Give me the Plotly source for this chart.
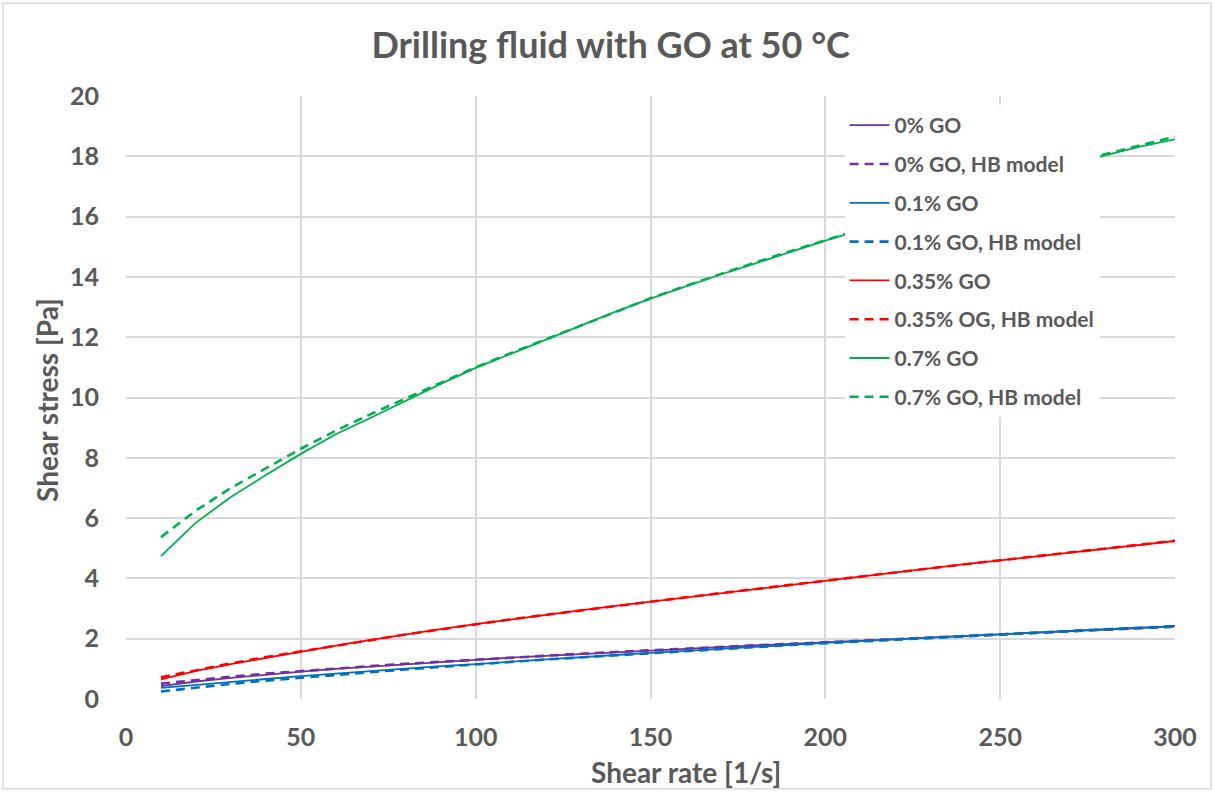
import plotly.graph_objects as go

shear_rate = [10, 20, 30, 40, 50, 60, 70, 80, 90, 100,
              110, 120, 130, 140, 150, 160, 170, 180, 190, 200,
              210, 220, 230, 240, 250, 260, 270, 280, 290, 300]

go0_meas = [0.43, 0.58, 0.70, 0.81, 0.91, 1.00, 1.08, 1.16, 1.23, 1.30,
            1.37, 1.43, 1.50, 1.56, 1.62, 1.67, 1.73, 1.78, 1.83, 1.88,
            1.93, 1.98, 2.03, 2.08, 2.13, 2.19, 2.24, 2.29, 2.35, 2.42]
go0_hb = [0.51, 0.63, 0.74, 0.84, 0.93, 1.01, 1.09, 1.17, 1.24, 1.31,
          1.37, 1.44, 1.50, 1.56, 1.62, 1.67, 1.73, 1.78, 1.83, 1.88,
          1.93, 1.98, 2.03, 2.08, 2.13, 2.18, 2.23, 2.28, 2.34, 2.40]

go01_meas = [0.37, 0.47, 0.57, 0.67, 0.76, 0.84, 0.93, 1.01, 1.09, 1.16,
             1.24, 1.31, 1.38, 1.46, 1.53, 1.60, 1.66, 1.73, 1.79, 1.86,
             1.92, 1.98, 2.04, 2.10, 2.16, 2.21, 2.27, 2.32, 2.37, 2.42]
go01_hb = [0.25, 0.38, 0.50, 0.61, 0.71, 0.80, 0.89, 0.98, 1.07, 1.15,
           1.23, 1.31, 1.38, 1.45, 1.53, 1.60, 1.66, 1.73, 1.79, 1.85,
           1.91, 1.97, 2.03, 2.09, 2.15, 2.20, 2.26, 2.31, 2.36, 2.41]

go035_meas = [0.65, 0.93, 1.16, 1.37, 1.57, 1.77, 1.96, 2.15, 2.32, 2.48,
              2.64, 2.79, 2.94, 3.09, 3.23, 3.37, 3.51, 3.65, 3.79, 3.93,
              4.07, 4.20, 4.34, 4.47, 4.60, 4.73, 4.87, 5.00, 5.12, 5.24]
go035_hb = [0.72, 0.96, 1.18, 1.39, 1.58, 1.77, 1.96, 2.14, 2.31, 2.48,
            2.64, 2.79, 2.94, 3.09, 3.23, 3.37, 3.51, 3.65, 3.79, 3.92,
            4.06, 4.20, 4.33, 4.47, 4.60, 4.73, 4.86, 4.99, 5.12, 5.25]

go07_meas = [4.74, 5.85, 6.70, 7.43, 8.13, 8.78, 9.33, 9.90, 10.45, 10.98,
             11.45, 11.92, 12.38, 12.85, 13.28, 13.68, 14.08, 14.45, 14.83, 15.20,
             15.55, 15.93, 16.30, 16.66, 17.02, 17.38, 17.73, 18.03, 18.32, 18.56]
go07_hb = [5.37, 6.25, 7.00, 7.65, 8.30, 8.90, 9.45, 9.97, 10.48, 11.00,
           11.47, 11.93, 12.39, 12.85, 13.29, 13.70, 14.10, 14.48, 14.85, 15.22,
           15.58, 15.95, 16.32, 16.68, 17.04, 17.40, 17.75, 18.07, 18.37, 18.65]

series = [
    ("0% GO", go0_meas, "#7030A0", "solid"),
    ("0% GO, HB model", go0_hb, "#7030A0", "dash"),
    ("0.1% GO", go01_meas, "#0070C0", "solid"),
    ("0.1% GO, HB model", go01_hb, "#0070C0", "dash"),
    ("0.35% GO", go035_meas, "#FF0000", "solid"),
    ("0.35% OG, HB model", go035_hb, "#FF0000", "dash"),
    ("0.7% GO", go07_meas, "#00B050", "solid"),
    ("0.7% GO, HB model", go07_hb, "#00B050", "dash"),
]

FONT = "Lato"
GREY = "#595959"

fig = go.Figure()
for i, (name, vals, color, style) in enumerate(series):
    if style == "solid":
        line = dict(color=color, width=1.8)
    else:
        line = dict(color=color, width=2.6, dash="9px,6px")
    fig.add_trace(go.Scatter(x=shear_rate, y=vals, mode="lines", name=f"<b>{name}</b>",
                             line=line, legendgroup=f"g{i}"))

fig.update_layout(
    width=1214, height=792,
    margin=dict(l=126, r=39, t=96, b=93),
    paper_bgcolor="white", plot_bgcolor="white",
    font=dict(family=FONT, color=GREY),
    title=dict(text="<b>Drilling fluid with GO at 50 °C</b>", x=0.503, xref="container",
               xanchor="center", y=0.943, yref="container", yanchor="middle",
               font=dict(size=36, color=GREY, family=FONT)),
    legend=dict(x=0.685, xanchor="left", y=0.985, yanchor="top",
                bgcolor="white", font=dict(size=21, color=GREY, family=FONT),
                tracegroupgap=8.5, itemwidth=40),
    xaxis=dict(range=[0, 300], dtick=50, tick0=0, showgrid=True, gridcolor="#d9d9d9",
               gridwidth=1.5, zeroline=False, showline=False,
               tickfont=dict(size=25, color=GREY, family=FONT), ticklabelstandoff=21),
    yaxis=dict(range=[0, 20], dtick=2, tick0=0, showgrid=True, gridcolor="#d9d9d9",
               gridwidth=1.5, zeroline=False, showline=False,
               tickfont=dict(size=25, color=GREY, family=FONT), ticklabelstandoff=26),
    annotations=[
        dict(text="<b>Shear rate [1/s]</b>", xref="paper", yref="paper",
             x=0.534, y=-0.121, xanchor="center", yanchor="middle", showarrow=False,
             font=dict(size=28, color=GREY, family=FONT)),
        dict(text="<b>Shear stress [Pa]</b>", xref="paper", yref="paper",
             x=-0.0753, y=0.496, xanchor="center", yanchor="middle", showarrow=False,
             textangle=-90, font=dict(size=28, color=GREY, family=FONT)),
    ],
    shapes=[dict(type="rect", xref="paper", yref="paper",
                 x0=-0.1173, x1=1.0343, y0=-0.149, y1=1.154,
                 line=dict(color="#d9d9d9", width=1.5), fillcolor="rgba(0,0,0,0)",
                 layer="below")],
)
fig.update_xaxes(tickprefix="<b>", ticksuffix="</b>")
fig.update_yaxes(tickprefix="<b>", ticksuffix="</b>")

fig.write_html("out.html")
